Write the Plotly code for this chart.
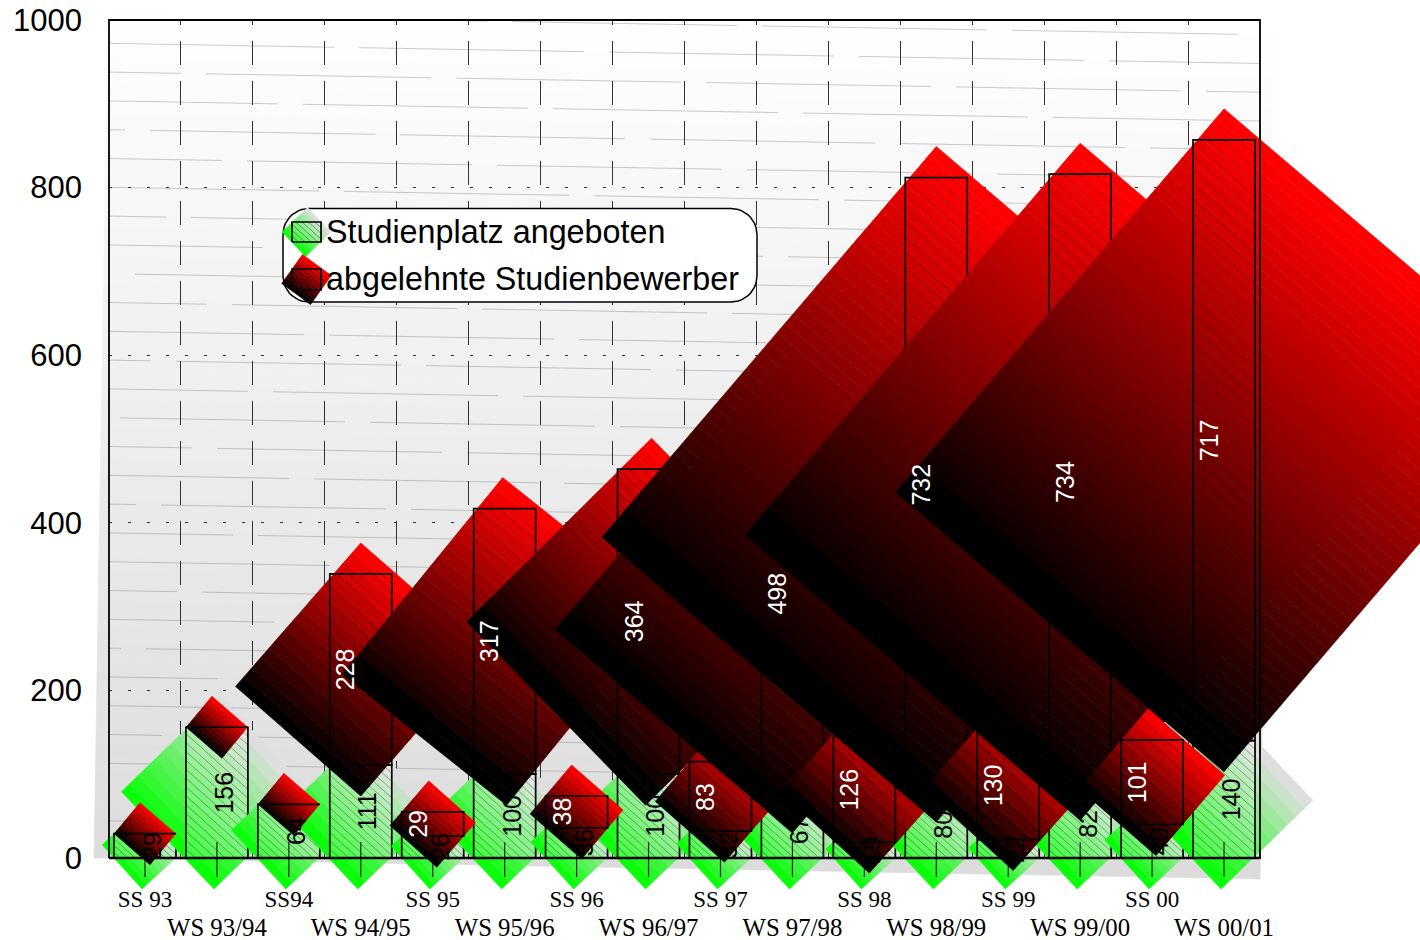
import numpy as np
import plotly.graph_objects as go

terms = ['SS 93', 'WS 93/94', 'SS94', 'WS 94/95', 'SS 95', 'WS 95/96', 'SS 96', 'WS 96/97',
         'SS 97', 'WS 97/98', 'SS 98', 'WS 98/99', 'SS 99', 'WS 99/00', 'SS 00', 'WS 00/01']
offered = [29, 156, 64, 111, 26, 100, 36, 100, 32, 67, 19, 80, 22, 82, 40, 140]
rejected = [0, 0, 0, 228, 29, 317, 38, 364, 83, 498, 126, 732, 130, 734, 101, 717]
y_ticks = [0, 200, 400, 600, 800, 1000]
legend_names = ['Studienplatz angeboten', 'abgelehnte Studienbewerber']

# picture geometry, pixels
W, H = 1420, 940
LEFT, RIGHT, TOP, BOTTOM = 109, 1260, 20, 858
PX = (RIGHT - LEFT) / len(terms)
PY = (BOTTOM - TOP) / 1000
BAR_W = 62

# how far each red square is skewed, pixels
red_shear = [0, 0, 0, 17, 1.5, 33, 2, 0, 5, 36, 4, 53, 4, 53, 7, 52]
red_lean = [5, 5, 5, 0, 4, 2, 5, -3, 4, 0, 5, 0, 5, 0, 4, 0]

FONT = 'Liberation Sans'
SERIF = 'Liberation Serif'


def to_x(px):
    return (px - LEFT) / PX


def to_y(py):
    return (BOTTOM - py) / PY


def red_col(t):
    # runs down to a very dark red, then a plain black band at the end
    if t > 0.92:
        return 'rgb(0,0,0)'
    return f'rgb({round(255 * min(1, 1 - (t - 0.02) / 0.95))},0,0)'


def green_col(t):
    t = 1 - t
    t = min(1, t / 0.95)
    return f'rgb({round(222 * t)},{round(255 - 33 * t)},{round(222 * t)})'


def add_square(fig, cx, y0, y1, col, xa, ya, shear=0, lean=0, bar_w=BAR_W):
    # gradient square turned 45 degrees around one bar, cut in thin bands
    h_px = (y1 - y0) * PY
    s = (h_px + bar_w) / 2
    cy = (y0 + y1) / 2
    ax, ay = s * 0.99 / PX, shear / PY
    bx, by = lean / PX, -s / PY
    tx, ty = cx - bx, cy - by
    rx, ry = cx + ax, cy + ay
    vx, vy = bx - ax, by - ay
    n = max(10, int(s / 8))
    for i in range(n):
        t0, t1 = i / n, (i + 1) / n
        xs = [tx + vx * t0, rx + vx * t0, rx + vx * t1, tx + vx * t1, tx + vx * t0]
        ys = [ty + vy * t0, ry + vy * t0, ry + vy * t1, ty + vy * t1, ty + vy * t0]
        c = col((t0 + t1) / 2)
        fig.add_trace(go.Scatter(x=xs, y=ys, mode='lines', fill='toself', fillcolor=c,
                                 line=dict(color=c, width=0.6), xaxis=xa, yaxis=ya,
                                 hoverinfo='skip', showlegend=False))
    return s


def add_bar(fig, cx, y0, y1, s, xa, ya, veil, hatch, bar_w=BAR_W):
    hw = bar_w / 2 / PX
    h_px = (y1 - y0) * PY
    if h_px > 0:
        if veil:
            fig.add_trace(go.Scatter(x=[cx - hw, cx + hw, cx + hw, cx - hw, cx - hw],
                                     y=[y0, y0, y1, y1, y0], mode='lines', fill='toself',
                                     fillcolor=veil, line=dict(width=0), xaxis=xa, yaxis=ya,
                                     hoverinfo='skip', showlegend=False))
        step = 2.5 + 0.65 * np.sqrt(s)
        m = 0.9
        hx, hy = [], []
        c = -m * bar_w
        while c < h_px:
            a = max(0, -c / m)
            b = min(bar_w, (h_px - c) / m)
            if b > a:
                hx += [cx - hw + a / PX, cx - hw + b / PX, None]
                hy += [y1 - (m * a + c) / PY, y1 - (m * b + c) / PY, None]
            c += step
        fig.add_trace(go.Scatter(x=hx, y=hy, mode='lines', line=dict(color=hatch, width=0.7),
                                 xaxis=xa, yaxis=ya, hoverinfo='skip', showlegend=False))
    fig.add_trace(go.Scatter(x=[cx - hw, cx + hw, cx + hw, cx - hw, cx - hw],
                             y=[y0, y0, y1, y1, y0], mode='lines',
                             line=dict(color='black', width=1.7), xaxis=xa, yaxis=ya,
                             hoverinfo='skip', showlegend=False))


fig = go.Figure()

# grey tilted panel behind the plot
for i in range(60):
    f0, f1 = i / 60, (i + 1) / 60
    lx0, ly0 = 108 + (94 - 108) * f0, 858 * f0
    lx1, ly1 = 108 + (94 - 108) * f1, 858 * f1
    rx0, ry0 = 1274 + (1260 - 1274) * f0, 21 + 858 * f0
    rx1, ry1 = 1274 + (1260 - 1274) * f1, 21 + 858 * f1
    g = round(255 - 35 * (f0 + f1) / 2)
    c = f'rgb({g},{g},{g})'
    fig.add_trace(go.Scatter(x=[to_x(lx0), to_x(rx0), to_x(rx1), to_x(lx1), to_x(lx0)],
                             y=[to_y(ly0), to_y(ry0), to_y(ry1), to_y(ly1), to_y(ly0)],
                             mode='lines', fill='toself', fillcolor=c, line=dict(color=c, width=0.6),
                             xaxis='x', yaxis='y', hoverinfo='skip', showlegend=False))
# faint slanted lines of the panel, each with small breaks
slope = 0.0175
k = -1
while 43.3 + 28.8 * k + slope * (RIGHT - LEFT) < BOTTOM:
    y_l = 43.3 + 28.8 * k
    lx, ly = [], []
    x_a = LEFT + ((k * 97) % 250) - 250
    while x_a < RIGHT:
        p0 = max(LEFT, x_a)
        p1 = min(RIGHT, x_a + 225)
        if p1 > p0:
            y0 = y_l + slope * (p0 - LEFT)
            y1 = y_l + slope * (p1 - LEFT)
            if y0 > TOP and y1 > TOP:
                lx += [to_x(p0), to_x(p1), None]
                ly += [to_y(y0), to_y(y1), None]
            elif y1 > TOP:
                p0 = LEFT + (TOP - y_l) / slope
                lx += [to_x(p0), to_x(p1), None]
                ly += [to_y(TOP), to_y(y1), None]
        x_a += 250
    fig.add_trace(go.Scatter(x=lx, y=ly, mode='lines', line=dict(color='rgba(120,120,120,0.38)', width=1),
                             xaxis='x', yaxis='y', hoverinfo='skip', showlegend=False))
    k += 1

centers = [i + 0.5 for i in range(len(terms))]

# the main axes: grid and labels only
fig.add_trace(go.Scatter(x=[None], y=[None], xaxis='x2', yaxis='y2', hoverinfo='skip', showlegend=False))

# green squares and bars, left to right
for i, cx in enumerate(centers):
    v = offered[i]
    s = add_square(fig, cx, 0, v, green_col, 'x3', 'y3', shear=-1, lean=-3)
    add_bar(fig, cx, 0, v, s, 'x3', 'y3', 'rgba(255,255,255,0.22)', 'rgba(0,50,0,0.55)')
for cx in centers:
    fig.add_trace(go.Scatter(x=[cx, cx], y=[to_y(842), to_y(877)], mode='lines',
                             line=dict(color='#222', width=1.2), xaxis='x3', yaxis='y3',
                             hoverinfo='skip', showlegend=False))

# second set of tick labels for the winter terms
fig.add_trace(go.Scatter(x=[None], y=[None], xaxis='x4', yaxis='y4', hoverinfo='skip', showlegend=False))

# red squares and bars on top of the green stack
for i, cx in enumerate(centers):
    y0 = offered[i]
    y1 = y0 + rejected[i]
    s = add_square(fig, cx, y0, y1, red_col, 'x5', 'y5', shear=red_shear[i], lean=red_lean[i])
    add_bar(fig, cx, y0, y1, s, 'x5', 'y5', None, 'rgba(0,0,0,0.4)')

# legend box
bx0, bx1, by0, by1, rad = 283, 757, 208.5, 302, 26
ang = np.linspace(0, np.pi / 2, 12)
box_x = list(bx1 - rad + rad * np.sin(ang)) + list(bx1 - rad + rad * np.cos(ang)) \
    + list(bx0 + rad - rad * np.sin(ang)) + list(bx0 + rad - rad * np.cos(ang))
box_y = list(by0 + rad - rad * np.cos(ang)) + list(by1 - rad + rad * np.sin(ang)) \
    + list(by1 - rad + rad * np.cos(ang)) + list(by0 + rad - rad * np.sin(ang))
box_x.append(box_x[0])
box_y.append(box_y[0])
fig.add_trace(go.Scatter(x=[to_x(p) for p in box_x], y=[to_y(p) for p in box_y], mode='lines',
                         fill='toself', fillcolor='white', line=dict(color='black', width=1.5),
                         xaxis='x5', yaxis='y5', hoverinfo='skip', showlegend=False))
for col, cxp, top, bot, hatch, shear, lean in [
        (green_col, 306.5, 222, 242, 'rgba(0,50,0,0.6)', 0, -1),
        (red_col, 306.5, 269, 290, 'rgba(0,0,0,0.5)', 4, 4)]:
    s = add_square(fig, to_x(cxp), to_y(bot), to_y(top), col, 'x5', 'y5', shear=shear, lean=lean, bar_w=29)
    add_bar(fig, to_x(cxp), to_y(bot), to_y(top), s, 'x5', 'y5',
            'rgba(255,255,255,0.15)' if col is green_col else None, hatch, bar_w=29)

# frame sits over everything
fig.add_trace(go.Scatter(x=[0, len(terms), len(terms), 0, 0], y=[0, 0, 1000, 1000, 0], mode='lines',
                         line=dict(color='black', width=1.8), xaxis='x5', yaxis='y5',
                         hoverinfo='skip', showlegend=False))
fig.add_trace(go.Scatter(x=[0, len(terms)], y=[0, 0], mode='lines',
                         line=dict(color='black', width=2.4), xaxis='x5', yaxis='y5',
                         hoverinfo='skip', showlegend=False))

annos = []
# all numbers lie over the squares; black ones just vanish on the black bands
for i, cx in enumerate(centers):
    annos.append(dict(x=cx + 7 / PX, y=offered[i] / 2, xref='x5', yref='y5',
                      text=str(offered[i]), showarrow=False, textangle=-90,
                      font=dict(family=FONT, size=25, color='black')))
for i, cx in enumerate(centers):
    if rejected[i] > 0:
        annos.append(dict(x=cx - 15 / PX, y=offered[i] + rejected[i] / 2, xref='x5', yref='y5',
                          text=str(rejected[i]), showarrow=False, textangle=-90,
                          font=dict(family=FONT, size=25, color='white')))
for name, py in zip(legend_names, [232, 279]):
    annos.append(dict(x=to_x(323.5), y=to_y(py), xref='x5', yref='y5', text=name, showarrow=False,
                      xanchor='left', font=dict(family=FONT, size=32.3, color='black')))

full_x = [to_x(0), to_x(W)]
full_y = [to_y(H), to_y(0)]
dom_x = [LEFT / W, RIGHT / W]
dom_y = [1 - BOTTOM / H, 1 - TOP / H]
hidden = dict(visible=False, fixedrange=True, automargin=False)

ss = list(range(0, len(terms), 2))
ws = list(range(1, len(terms), 2))

# vertical grid dashes start with a short stub under the top edge
grid_dash = '5px,16px,' + ','.join(['24px,16px'] * 21)

fig.update_layout(
    width=W, height=H, margin=dict(l=0, r=0, t=0, b=0),
    paper_bgcolor='white', plot_bgcolor='rgba(0,0,0,0)', showlegend=False,
    annotations=annos,
    xaxis=dict(domain=[0, 1], range=full_x, anchor='y', **hidden),
    yaxis=dict(domain=[0, 1], range=full_y, anchor='x', **hidden),
    xaxis2=dict(domain=dom_x, range=[0, len(terms)], anchor='y2', fixedrange=True, showgrid=False,
                automargin=False, zeroline=False, showline=False, ticks='',
                tickmode='array', tickvals=[centers[i] for i in ss], ticktext=[terms[i] for i in ss],
                tickangle=0, ticklabelstandoff=25, tickfont=dict(family=SERIF, size=23, color='black'),
                minor=dict(tickmode='array', tickvals=list(range(1, len(terms))), showgrid=True,
                           gridcolor='#333', griddash=grid_dash, gridwidth=1.2, ticks='')),
    yaxis2=dict(domain=dom_y, range=[0, 1000], anchor='x2', fixedrange=True, showline=False,
                automargin=False, zeroline=False, tickmode='array', tickvals=y_ticks, ticks='',
                ticklabelstandoff=26, tickfont=dict(family=FONT, size=31, color='black'),
                showgrid=True, gridcolor='#333', griddash='3px,16px', gridwidth=1),
    xaxis3=dict(domain=[0, 1], range=full_x, anchor='y3', **hidden),
    yaxis3=dict(domain=[0, 1], range=full_y, anchor='x3', **hidden),
    xaxis4=dict(domain=dom_x, range=[0, len(terms)], anchor='y4', fixedrange=True, showgrid=False,
                automargin=False, zeroline=False, showline=False, ticks='',
                tickmode='array', tickvals=[centers[i] for i in ws], ticktext=[terms[i] for i in ws],
                tickangle=0, ticklabelstandoff=52, tickfont=dict(family=SERIF, size=24.8, color='black')),
    yaxis4=dict(domain=dom_y, range=[0, 1000], anchor='x4', **hidden),
    xaxis5=dict(domain=[0, 1], range=full_x, anchor='y5', **hidden),
    yaxis5=dict(domain=[0, 1], range=full_y, anchor='x5', **hidden),
)

fig.write_html("out.html", config={'displayModeBar': False},
               post_script="document.body.style.margin='0';")
